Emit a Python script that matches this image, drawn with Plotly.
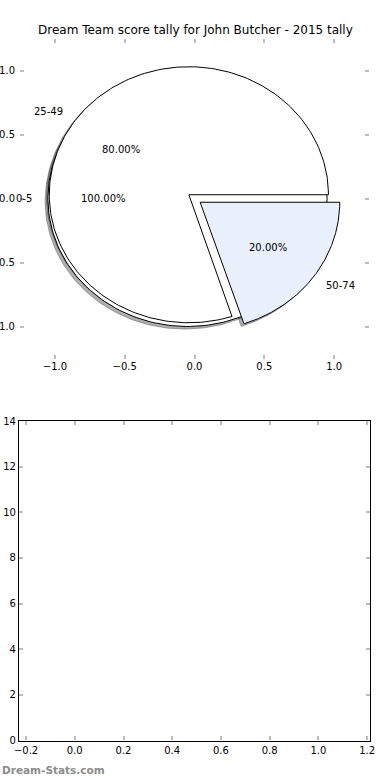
import numpy as np
import plotly.graph_objects as go

# ---- data ----
title_text = "Dream Team score tally for John Butcher - 2015 tally"
pie1_labels = ["0-5"]
pie1_values = [1]
pie1_colors = ["#ffffff"]
pie2_labels = ["25-49", "50-74"]
pie2_values = [4, 1]
pie2_colors = ["#ffffff", "#e9effb"]
pie_ticks = [-1.0, -0.5, 0.0, 0.5, 1.0]
bottom_xticks = [-0.2, 0.0, 0.2, 0.4, 0.6, 0.8, 1.0, 1.2]
bottom_yticks = [0, 2, 4, 6, 8, 10, 12, 14]

EXPLODE = 0.05
SHADOW = (-0.02, -0.02)
FONT = "DejaVu Sans"


def wedge_path(cx, cy, t1, t2, n=240):
    if t2 - t1 >= 359.999:
        ts = np.radians(np.linspace(0, 360, n))
        return list(cx + np.cos(ts)), list(cy + np.sin(ts))
    ts = np.radians(np.linspace(t1, t2, n))
    xs = [cx] + list(cx + np.cos(ts)) + [cx]
    ys = [cy] + list(cy + np.sin(ts)) + [cy]
    return xs, ys


wedges = []   # (xs, ys, color)
annots = []
for labels, values, colors in [(pie1_labels, pie1_values, pie1_colors),
                               (pie2_labels, pie2_values, pie2_colors)]:
    total = float(sum(values))
    theta = 0.0
    for lab, v, col in zip(labels, values, colors):
        frac = v / total
        t1, t2 = theta, theta + 360.0 * frac
        tm = np.radians((t1 + t2) / 2)
        cx = EXPLODE * np.cos(tm)
        cy = EXPLODE * np.sin(tm)
        xs, ys = wedge_path(cx, cy, t1, t2)
        wedges.append((xs, ys, col))
        lx, ly = cx + 1.1 * np.cos(tm), cy + 1.1 * np.sin(tm)
        annots.append(dict(x=lx, y=ly, text=lab,
                           xanchor="left" if lx > 0 else "right"))
        px, py = cx + 0.6 * np.cos(tm), cy + 0.6 * np.sin(tm)
        annots.append(dict(x=px, y=py, text="%.2f%%" % (frac * 100),
                           xanchor="center"))
        theta = t2

fig = go.Figure()
# shadows (below all wedges)
for xs, ys, col in wedges:
    fig.add_trace(go.Scatter(
        x=[x + SHADOW[0] for x in xs], y=[y + SHADOW[1] for y in ys],
        mode="lines", fill="toself", fillcolor="rgba(77,77,77,0.45)",
        line=dict(color="rgba(77,77,77,0.45)", width=1),
        hoverinfo="skip", showlegend=False, xaxis="x", yaxis="y"))
for xs, ys, col in wedges:
    fig.add_trace(go.Scatter(
        x=xs, y=ys, mode="lines", fill="toself", fillcolor=col,
        line=dict(color="black", width=1),
        hoverinfo="skip", showlegend=False, xaxis="x", yaxis="y"))

annotations = []
for a in annots:
    annotations.append(dict(x=a["x"], y=a["y"], xref="x", yref="y",
                            text=a["text"], showarrow=False,
                            xanchor=a["xanchor"], yanchor="middle",
                            font=dict(family=FONT, size=10, color="black")))
annotations.append(dict(x=0.5, y=1 - 30 / 780, xref="paper", yref="paper",
                        text=title_text, showarrow=False,
                        xanchor="center", yanchor="middle",
                        font=dict(family=FONT, size=12, color="black")))
annotations.append(dict(x=0, y=1 - 770 / 780, xref="paper", yref="paper",
                        text="<b>Dream-Stats.com</b>", showarrow=False,
                        xanchor="left", yanchor="middle",
                        font=dict(family=FONT, size=10.5, color="#8c8c8c")))

tick_common = dict(ticks="inside", ticklen=4, tickwidth=1.5,
                   tickcolor="#bdbdbd", showgrid=False, zeroline=False,
                   tickfont=dict(family=FONT, size=10, color="black"),
                   mirror="ticks", automargin=False)

fig.update_layout(
    width=390, height=780,
    margin=dict(l=0, r=0, t=0, b=0, autoexpand=False),
    paper_bgcolor="white", plot_bgcolor="white",
    showlegend=False,
    annotations=annotations,
    xaxis=dict(domain=[20 / 390, 369 / 390], range=[-1.25, 1.25],
               tickvals=pie_ticks, tickformat=".1f", showline=False,
               anchor="y", **tick_common),
    yaxis=dict(domain=[1 - 358.5 / 780, 1 - 38.5 / 780], range=[-1.25, 1.25],
               tickvals=pie_ticks, tickformat=".1f", showline=False,
               anchor="x", ticklabelstandoff=4, **tick_common),
    xaxis2=dict(domain=[19 / 390, 370 / 390], range=[-0.229, 1.212],
                tickvals=bottom_xticks, tickformat=".1f", showline=True,
                linecolor="black", linewidth=1.2, anchor="y2", **tick_common),
    yaxis2=dict(domain=[1 - 740.5 / 780, 1 - 421 / 780], range=[0, 14],
                tickvals=bottom_yticks, showline=True,
                linecolor="black", linewidth=1.2, anchor="x2", **tick_common),
)
# invisible trace so the bottom axes are drawn
fig.add_trace(go.Scatter(x=[None], y=[None], xaxis="x2", yaxis="y2",
                         showlegend=False, hoverinfo="skip"))

fig.write_html("out.html",
               config={"displayModeBar": False},
               post_script="document.body.style.margin='0';"
                           "document.body.style.overflow='hidden';")
